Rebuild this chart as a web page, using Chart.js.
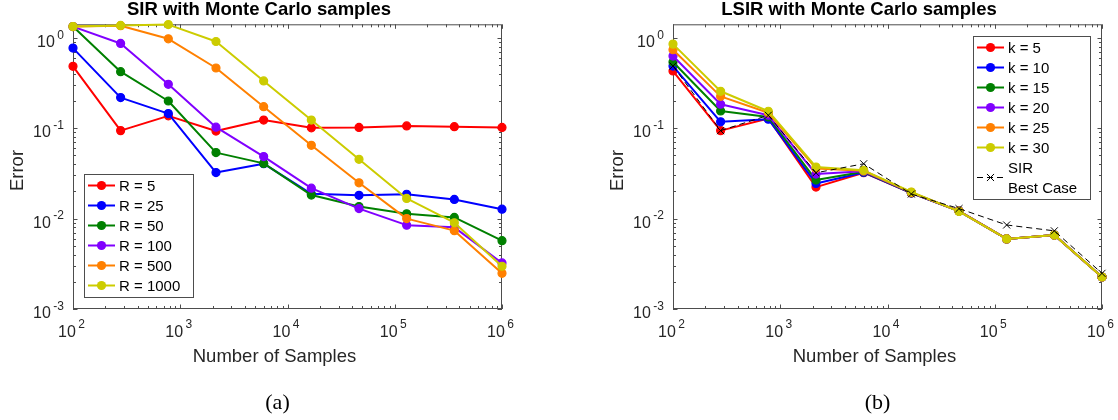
<!DOCTYPE html>
<html>
<head>
<meta charset="utf-8">
<script src="https://cdn.jsdelivr.net/npm/chart.js@4.4.1/dist/chart.umd.min.js"></script>
<style>
  html, body { margin: 0; padding: 0; background: #fff; }
  body { width: 1118px; height: 420px; position: relative; overflow: hidden; }
  .panel { position: absolute; top: 0; width: 518px; height: 420px; }
  #panelA { left: 0; }
  #panelB { left: 600px; }
</style>
</head>
<body>
<div class="panel" id="panelA"><canvas id="chartA" width="518" height="420"></canvas></div>
<div class="panel" id="panelB"><canvas id="chartB" width="518" height="420"></canvas></div>
<script>
// Number of Monte Carlo samples (x values, shared by every series)
const samples = [100, 278, 774, 2154, 5995, 16681, 46416, 129155, 359381, 1000000];

// Decade exponents used as tick labels (10^e)
const xTickExponents = [2, 3, 4, 5, 6];
const yTickExponents = [-3, -2, -1, 0];

// (a) SIR, error for each R
const sirLabels = ['R = 5', 'R = 25', 'R = 50', 'R = 100', 'R = 500', 'R = 1000'];
const sirR5    = [0.483, 0.094, 0.137, 0.093, 0.123, 0.101, 0.102, 0.106, 0.104, 0.102];
const sirR25   = [0.769, 0.218, 0.145, 0.0323, 0.0405, 0.0188, 0.0181, 0.0186, 0.0163, 0.0127];
const sirR50   = [1.33, 0.422, 0.200, 0.0537, 0.0408, 0.0182, 0.0136, 0.0113, 0.0103, 0.0057];
const sirR100  = [1.33, 0.866, 0.306, 0.1026, 0.0485, 0.0217, 0.0129, 0.00846, 0.0080, 0.00323];
const sirR500  = [1.33, 1.36, 0.975, 0.463, 0.173, 0.0647, 0.0249, 0.0100, 0.00736, 0.00248];
const sirR1000 = [1.33, 1.37, 1.40, 0.91, 0.333, 0.123, 0.0453, 0.0167, 0.0090, 0.00297];

// (b) LSIR, error for each k, plus SIR best case
const lsirLabels = ['k = 5', 'k = 10', 'k = 15', 'k = 20', 'k = 25', 'k = 30'];
const lsirK5  = [0.429, 0.094, 0.128, 0.0223, 0.0322, 0.0192, 0.0121, 0.00596, 0.00658, 0.00226];
const lsirK10 = [0.487, 0.1175, 0.1257, 0.0245, 0.0324, 0.0192, 0.0121, 0.00596, 0.00658, 0.00226];
const lsirK15 = [0.539, 0.155, 0.133, 0.0267, 0.0329, 0.0193, 0.0121, 0.00596, 0.00658, 0.00226];
const lsirK20 = [0.628, 0.184, 0.139, 0.0311, 0.0334, 0.0194, 0.0121, 0.00596, 0.00658, 0.00226];
const lsirK25 = [0.737, 0.225, 0.148, 0.0359, 0.0338, 0.0195, 0.0121, 0.00596, 0.00658, 0.00226];
const lsirK30 = [0.851, 0.256, 0.154, 0.0372, 0.0342, 0.0197, 0.0120, 0.00596, 0.00658, 0.00226];
const sirBestLabel = 'SIR\nBest Case';
const sirBest = [0.487, 0.094, 0.139, 0.0321, 0.0404, 0.0187, 0.0129, 0.0085, 0.00732, 0.00248];

const palette = ['#ff0000', '#0000ff', '#008000', '#8000ff', '#ff8000', '#cccc00'];
const AXIS = '#4d4d4d';
const TEXT = '#262626';
const SANS = '"Liberation Sans", Arial, sans-serif';

function series(label, values, color, idx) {
    return {
        label: label,
        data: samples.map((s, i) => ({x: s, y: values[i]})),
        borderColor: color,
        backgroundColor: color,
        pointBackgroundColor: color,
        pointBorderColor: color,
        borderWidth: 2,
        pointRadius: 4,
        pointBorderWidth: 1.2,
        pointStyle: 'circle',
        borderJoinStyle: 'round',
        tension: 0,
        clip: false,
        order: 20 - idx   // later series on top, like MATLAB
    };
}

// "10" with a raised exponent
function drawPow(ctx, x, yBase, exp, align) {
    const e = String(exp);
    const gap = 2.5;
    ctx.font = '16px ' + SANS;
    const w10 = ctx.measureText('10').width;
    ctx.font = '12px ' + SANS;
    const we = ctx.measureText(e).width;
    const total = w10 + gap + we;
    const start = align === 'right' ? x - total : x - total / 2;
    ctx.textAlign = 'left';
    ctx.textBaseline = 'alphabetic';
    ctx.font = '16px ' + SANS;
    ctx.fillText('10', start, yBase);
    ctx.font = '12px ' + SANS;
    ctx.fillText(e, start + w10 + gap, yBase - 8.2);
}

function drawMarker(ctx, style, x, y, r, color) {
    ctx.save();
    ctx.fillStyle = color;
    ctx.strokeStyle = color;
    ctx.setLineDash([]);
    if (style === 'crossRot') {
        const d = r * Math.SQRT1_2;
        ctx.lineWidth = 1;
        ctx.beginPath();
        ctx.moveTo(x - d, y - d); ctx.lineTo(x + d, y + d);
        ctx.moveTo(x - d, y + d); ctx.lineTo(x + d, y - d);
        ctx.stroke();
    } else {
        ctx.beginPath();
        ctx.arc(x, y, r + 0.6, 0, Math.PI * 2);
        ctx.fill();
    }
    ctx.restore();
}

const matlabAxes = {
    id: 'matlabAxes',
    beforeDatasetsDraw(chart) {
        const {ctx, chartArea: a, scales: {x, y}} = chart;
        ctx.save();
        ctx.strokeStyle = AXIS;
        ctx.lineWidth = 1;
        ctx.strokeRect(a.left + 0.5, a.top + 0.5, a.right - a.left - 1, a.bottom - a.top - 1);
        ctx.beginPath();
        // x ticks, bottom and top, pointing inwards
        xTickExponents.forEach(e => {
            for (let m = 1; m <= 9; m++) {
                const v = m * Math.pow(10, e);
                if (v < x.min || v > x.max) continue;
                const px = Math.round(x.getPixelForValue(v)) + 0.5;
                const len = m === 1 ? 4.5 : 3;
                ctx.moveTo(px, a.bottom); ctx.lineTo(px, a.bottom - len);
                ctx.moveTo(px, a.top); ctx.lineTo(px, a.top + len);
            }
        });
        // y ticks, left and right
        yTickExponents.forEach(e => {
            for (let m = 1; m <= 9; m++) {
                const v = m * Math.pow(10, e);
                if (v < y.min || v > y.max) continue;
                const py = Math.round(y.getPixelForValue(v)) + 0.5;
                const len = m === 1 ? 4.5 : 3;
                ctx.moveTo(a.left, py); ctx.lineTo(a.left + len, py);
                ctx.moveTo(a.right, py); ctx.lineTo(a.right - len, py);
            }
        });
        ctx.stroke();
        ctx.restore();
    },
    afterDraw(chart, args, opts) {
        const {ctx, chartArea: a, scales: {x, y}} = chart;
        ctx.save();
        ctx.fillStyle = TEXT;
        xTickExponents.forEach(e => {
            drawPow(ctx, x.getPixelForValue(Math.pow(10, e)) - 1.5, a.bottom + 27.5, e, 'center');
        });
        yTickExponents.forEach(e => {
            drawPow(ctx, a.left - 9, y.getPixelForValue(Math.pow(10, e)) + 9, e, 'right');
        });

        // axis labels
        ctx.font = '18.5px ' + SANS;
        ctx.textAlign = 'center';
        ctx.textBaseline = 'alphabetic';
        ctx.fillText(opts.xLabel, 274.5, 361.5);
        ctx.save();
        ctx.translate(22.5, 170.5);
        ctx.rotate(-Math.PI / 2);
        ctx.fillText(opts.yLabel, 0, 0);
        ctx.restore();

        // caption
        ctx.fillStyle = '#000';
        ctx.font = '22px "Liberation Serif", "Times New Roman", serif';
        ctx.fillText(opts.caption, 277.5, 409);

        // legend box
        const L = opts.legend;
        const items = chart.data.datasets.map(ds => ({ds, lines: ds.label.split('\n')}));
        ctx.font = '15px ' + SANS;
        let textW = 0;
        items.forEach(it => it.lines.forEach(t => { textW = Math.max(textW, ctx.measureText(t).width); }));
        const nLines = items.reduce((s, it) => s + it.lines.length, 0);
        const w = Math.round(35 + textW + 13), h = nLines * 20 + 3;
        ctx.fillStyle = '#fff';
        ctx.fillRect(L.left, L.top, w, h);
        ctx.strokeStyle = AXIS;
        ctx.lineWidth = 1;
        ctx.strokeRect(L.left + 0.5, L.top + 0.5, w, h);
        let row = 0;
        items.forEach(({ds, lines}) => {
            const cy = L.top + 1.5 + 20 * row + 10 * lines.length;
            ctx.save();
            ctx.strokeStyle = ds.borderColor;
            ctx.lineWidth = ds.borderWidth;
            ctx.setLineDash(ds.borderDash || []);
            ctx.beginPath();
            ctx.moveTo(L.left + 4, cy);
            ctx.lineTo(L.left + 31, cy);
            ctx.stroke();
            ctx.restore();
            drawMarker(ctx, ds.pointStyle, L.left + 17.5, cy, ds.pointRadius, ds.pointBackgroundColor);
            ctx.fillStyle = '#000';
            ctx.font = '15px ' + SANS;
            ctx.textAlign = 'left';
            ctx.textBaseline = 'middle';
            lines.forEach((t, j) => {
                ctx.fillText(t, L.left + 35, cy - 10 * (lines.length - 1) + 20 * j + 1);
            });
            row += lines.length;
        });
        ctx.restore();
    }
};

function makeChart(canvasId, title, datasets, legendPos, caption) {
    const ctx = document.getElementById(canvasId).getContext('2d');
    return new Chart(ctx, {
        type: 'line',
        data: {datasets: datasets},
        options: {
            responsive: false,
            animation: false,
            events: [],
            layout: {padding: {left: 16, right: 16, top: 0, bottom: 111}},
            scales: {
                x: {
                    type: 'logarithmic',
                    min: 100,
                    max: 1000000,
                    display: false
                },
                y: {
                    type: 'logarithmic',
                    min: 0.001,
                    max: 1.41,
                    display: true,
                    ticks: {display: false},
                    grid: {display: false},
                    border: {display: false},
                    afterFit: function(scale) { scale.width = 57; }
                }
            },
            plugins: {
                legend: {display: false},
                tooltip: {enabled: false},
                title: {
                    display: true,
                    text: title,
                    color: '#000',
                    font: {family: SANS, size: 18.5, weight: 'bold', lineHeight: 1},
                    padding: {top: 1, bottom: 4.8}
                },
                matlabAxes: {
                    xLabel: 'Number of Samples',
                    yLabel: 'Error',
                    caption: caption,
                    legend: legendPos
                }
            }
        },
        plugins: [matlabAxes]
    });
}

const sirSets = [sirR5, sirR25, sirR50, sirR100, sirR500, sirR1000]
    .map((v, i) => series(sirLabels[i], v, palette[i], i));

const lsirSets = [lsirK5, lsirK10, lsirK15, lsirK20, lsirK25, lsirK30]
    .map((v, i) => series(lsirLabels[i], v, palette[i], i));
const best = series(sirBestLabel, sirBest, '#000000', 6);
best.borderWidth = 1;
best.borderDash = [6, 4];
best.pointStyle = 'crossRot';
best.pointRadius = 5;
best.pointBorderWidth = 1;
lsirSets.push(best);

makeChart('chartA', 'SIR with Monte Carlo samples', sirSets, {left: 84, top: 174}, '(a)');
makeChart('chartB', 'LSIR with Monte Carlo samples', lsirSets, {left: 373, top: 36}, '(b)');
</script>
</body>
</html>
